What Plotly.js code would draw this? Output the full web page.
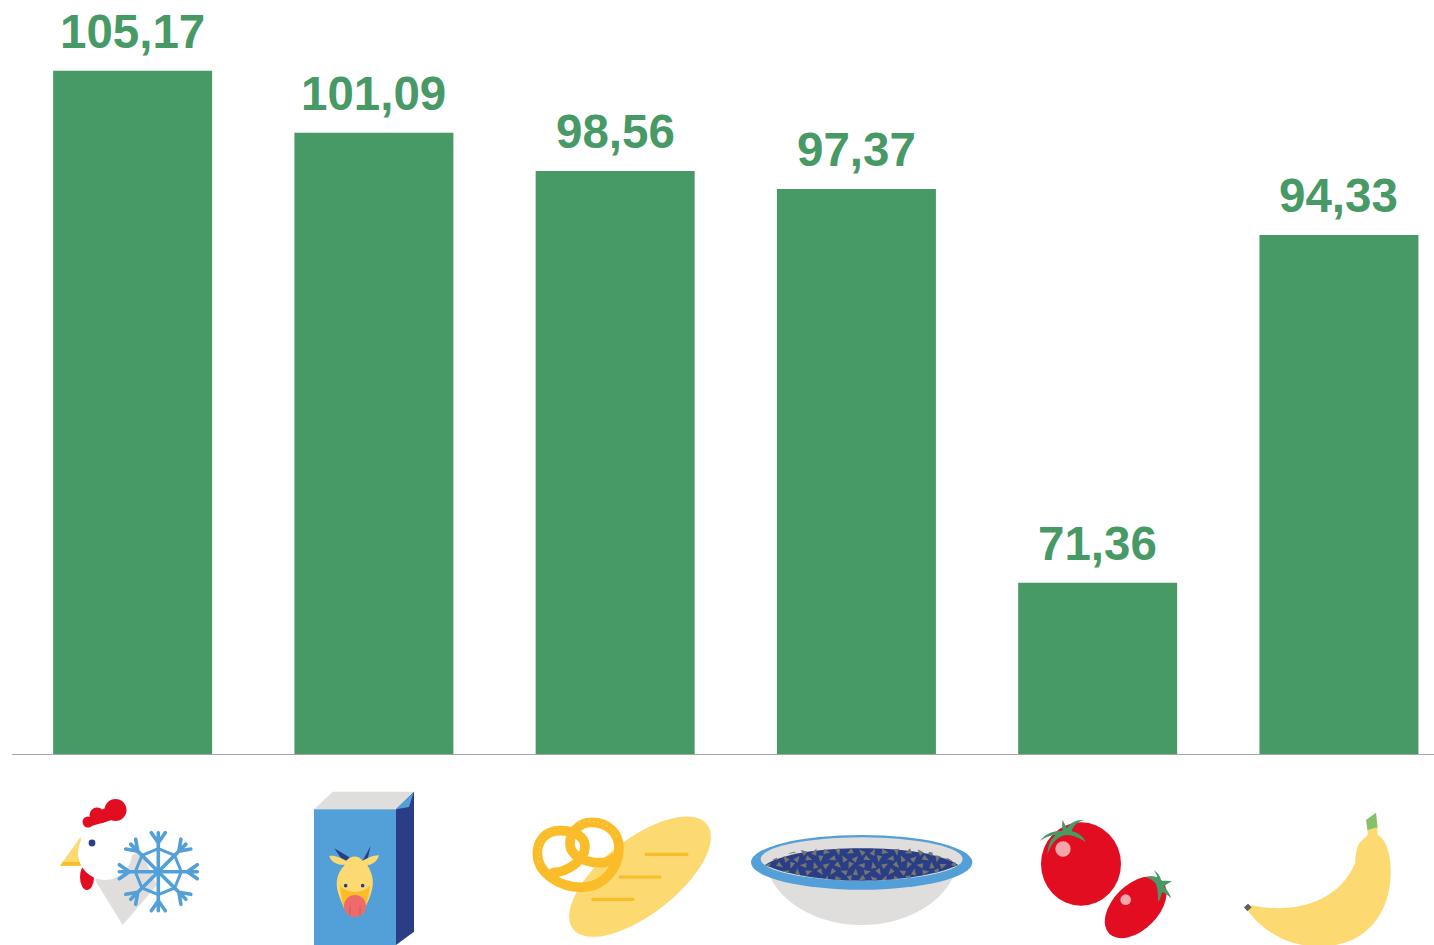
<!DOCTYPE html>
<html>
<head>
<meta charset="utf-8">
<script src="https://cdn.plot.ly/plotly-3.0.1.min.js"></script>
<style>html,body{margin:0;padding:0;background:#fff;overflow:hidden}#chart{width:1434px;height:945px}</style>
</head>
<body>
<div id="chart"></div>
<script>
const categories = ["Poulet surgelé", "Lait", "Pain et viennoiseries", "Riz et céréales", "Tomates", "Bananes"];
const values = [105.17, 101.09, 98.56, 97.37, 71.36, 94.33];

const GREEN = "#479966", YEL = "#fdd972", ORG = "#fbbc2c", BLUE = "#529fd7", NAVY = "#293e87", GREY = "#dfdedc", RED = "#e30a20";

function snowflake() {
  let s = `<g stroke="${BLUE}" stroke-width="3.6" fill="none" stroke-linecap="round" transform="translate(158.3 871.7)">`;
  let ring = [];
  for (let i = 0; i < 8; i++) {
    const a = i * Math.PI / 4;
    ring.push((23 * Math.cos(a)).toFixed(1) + " " + (23 * Math.sin(a)).toFixed(1));
  }
  s += `<polygon points="${ring.join(",")}" stroke-width="3"/>`;
  for (let i = 0; i < 8; i++) {
    s += `<g transform="rotate(${i * 45})"><path d="M0 0V-39M0 -29L-7 -39M0 -29L7 -39" /></g>`;
  }
  return s + "</g>";
}

function seeds() {
  let s = `<g fill="#76766f" clip-path="url(#foodseed)">`;
  let n = 0;
  for (let r = 0; r < 5; r++) {
    for (let c = 0; c < 17; c++) {
      const x = 745 + c * 35 + (r % 2) * 17, y = 186 + r * 20;
      const rot = (n++ * 73) % 360;
      s += `<path transform="translate(${x} ${y}) rotate(${rot})" d="M-9 -8L11 0L-9 8Z"/>`;
    }
  }
  return s + "</g>";
}

const icons = [
  // frozen chicken
  `<polygon points="95,880 122.7,925 157,885 140,850" fill="${GREY}"/>
   <polygon points="80.7,836.7 60,865.7 82,865.7" fill="${YEL}"/>
   <polygon points="60,865.7 82,865.7 82,862 63,862" fill="${ORG}"/>
   <ellipse cx="87" cy="877" rx="7" ry="13" fill="${RED}"/>
   <circle cx="105" cy="853" r="27" fill="#fff"/>
   <circle cx="115.5" cy="810" r="11" fill="${RED}"/><circle cx="97" cy="815" r="7.5" fill="${RED}"/><circle cx="88" cy="822" r="5.5" fill="${RED}"/>
   <path d="M88 827C98 824 108 822 122 816L112 806L95 812Z" fill="${RED}"/>
   <circle cx="92" cy="843" r="3.4" fill="${NAVY}"/>` + snowflake(),
  // milk carton
  `<polygon points="314,809.3 332.7,791.7 414,791.7 396,809.3" fill="${GREY}"/>
   <rect x="314" y="809.3" width="82" height="140" fill="${BLUE}"/>
   <polygon points="396,809.3 414,791.7 414,931.7 396,945" fill="${NAVY}"/>
   <polygon points="396,809.3 413.5,792.5 409,807" fill="${BLUE}"/>
   <g transform="translate(40 770) scale(.33333)">
     <path d="M915 283L883 235L928 262Z M962 283L992 228L982 270Z" fill="${NAVY}"/>
     <path d="M915 284C897 287 872 277 868 258C885 255 905 265 918 272C935 255 955 255 968 272C982 265 1000 255 1017 256C1012 277 990 287 982 285C1003 320 1003 345 988 385L975 415H912L900 385C885 345 885 315 915 284Z" fill="${YEL}"/>
     <path d="M900 345C915 372 975 372 990 345C988 375 980 400 975 415H912C908 400 902 375 900 345Z" fill="${ORG}"/>
     <circle cx="945" cy="408" r="33" fill="#ef6a6a"/>
     <circle cx="917" cy="347" r="5.5" fill="${NAVY}"/><circle cx="968" cy="347" r="5.5" fill="${NAVY}"/>
     <path d="M930 408v25M960 408v25" stroke="#c85a60" stroke-width="3"/>
   </g>`,
  // bread and pretzel
  `<ellipse cx="640" cy="876.7" rx="85" ry="37.6" transform="rotate(-38 640 876.7)" fill="${YEL}"/>
   <path d="M646 854.3H687M620 877H660M592.7 899.3H633" stroke="${ORG}" stroke-width="3.2" stroke-linecap="round"/>
   <g transform="translate(520 790) scale(.33333)" fill="none">
     <path d="M100 248C145 245 195 210 195 170C195 140 165 122 120 122C75 122 52 155 52 190C52 250 120 292 185 292C250 292 297 235 297 175C297 130 265 97 215 97C175 97 148 130 150 165C152 195 190 218 240 218C255 218 270 214 280 205" stroke="${ORG}" stroke-width="29" stroke-linecap="round"/>
     <path d="M60 215C50 160 80 118 130 118M165 100C200 88 265 90 290 140" stroke="#ffe08c" stroke-width="3" stroke-dasharray="1 13" stroke-linecap="round"/>
   </g>`,
  // bowl of grains
  `<g transform="translate(520 790) scale(.33333)">
     <clipPath id="foodseed"><path d="M735 225C790 180 900 165 1025 165C1150 165 1260 180 1315 225C1250 255 1140 272 1025 272C910 272 800 255 735 225Z"/></clipPath>
     <path d="M750 260C790 345 900 405 1025 405C1150 405 1260 345 1300 260Z" fill="${GREY}"/>
     <ellipse cx="1025" cy="217" rx="332" ry="82" fill="${BLUE}"/>
     <ellipse cx="1025" cy="207" rx="303" ry="65" fill="${GREY}"/>
     <path d="M735 225C790 190 900 175 1025 175C1150 175 1260 190 1315 225C1250 255 1140 272 1025 272C910 272 800 255 735 225Z" fill="${NAVY}"/>` + seeds() + `
   </g>`,
  // tomatoes
  `<g transform="translate(1020 790) scale(.33333)">
     <ellipse cx="183" cy="222" rx="120" ry="125" fill="${RED}"/>
     <circle cx="129" cy="177" r="23" fill="#f4a6ab"/>
     <path d="M60 153C75 130 100 122 128 122C126 110 126 100 128 90C134 100 136 108 140 115C150 98 170 88 192 90C170 97 160 108 155 123C175 127 190 140 198 157C180 145 160 135 140 135C115 138 95 155 82 195C84 165 92 145 108 135C90 135 75 142 60 153Z" fill="${GREEN}"/>
     <ellipse cx="347" cy="352" rx="112" ry="68" transform="rotate(-45 347 352)" fill="${RED}"/>
     <circle cx="317" cy="329" r="16" fill="#f4a6ab"/>
     <path d="M378 262C390 258 400 258 412 262C410 254 406 248 402 241C414 248 420 258 424 272C432 272 445 272 456 274C445 280 436 284 432 290C442 300 450 312 454 325C442 315 434 308 426 305C424 318 420 328 414 336C414 318 414 298 408 282C398 270 388 266 378 262Z" fill="${GREEN}"/>
   </g>`,
  // banana
  `<g transform="translate(1020 790) scale(.33333)">
     <polygon points="1038,90 1068,68 1073,115 1043,124" fill="#85c06b"/>
     <path d="M682 360L695 346C800 370 950 350 1005 220C1008 180 1012 160 1030 148L1043 135L1043 120L1072 112L1073 135C1090 142 1105 170 1110 210C1125 340 1060 468 900 470C800 470 725 420 682 360Z" fill="${YEL}"/>
     <polygon points="672,352 684,341 695,352 682,364" fill="#5f5f5f"/>
   </g>`
];

function iconUri(bodies) {
  const svg = `<svg xmlns="http://www.w3.org/2000/svg" width="1434" height="191" viewBox="0 754 1434 191">
    <defs><filter id="soft" x="0" y="754" width="1434" height="191" filterUnits="userSpaceOnUse"><feGaussianBlur stdDeviation="0.45"/></filter></defs>
    <g filter="url(#soft)">${bodies.map(b => `<g>${b}</g>`).join("")}</g></svg>`;
  return "data:image/svg+xml;charset=utf-8," + encodeURIComponent(svg);
}

const labels = categories.map((c, i) => ({
  x: c, y: values[i], xref: "x", yref: "y",
  text: values[i].toFixed(2).replace(".", ","),
  showarrow: false, xanchor: "center", yanchor: "bottom", yshift: 11,
  font: {family: '"Liberation Sans", Arial, sans-serif', size: 47.5, color: GREEN, weight: 700}
}));

Plotly.newPlot("chart", [{
  type: "bar",
  x: categories,
  y: values,
  width: 0.659,
  marker: {color: GREEN, line: {width: 0}},
  hoverinfo: "skip"
}], {
  width: 1434, height: 945,
  margin: {l: 12, r: 0, t: 0, b: 191, pad: 0},
  paper_bgcolor: "#fff", plot_bgcolor: "#fff",
  showlegend: false,
  xaxis: {type: "category", range: [-0.5, 5.394], showticklabels: false, ticks: "", showgrid: false, zeroline: false,
          showline: true, linecolor: "#a6a6a6", linewidth: 1, fixedrange: true},
  yaxis: {range: [60.05, 109.85], visible: false, showgrid: false, zeroline: false, fixedrange: true},
  annotations: labels,
  images: [{
    source: iconUri(icons), xref: "paper", yref: "paper",
    x: -12 / 1422, y: 0, sizex: 1434 / 1422, sizey: 191 / 754,
    xanchor: "left", yanchor: "top", sizing: "stretch", layer: "above"
  }]
}, {displayModeBar: false, responsive: false});
</script>
</body>
</html>
